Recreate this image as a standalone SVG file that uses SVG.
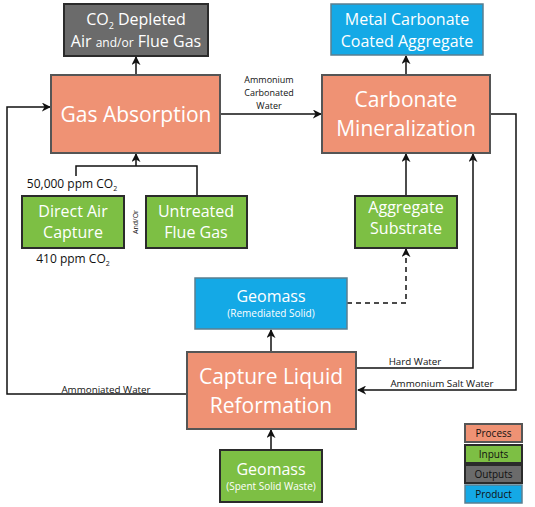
<svg xmlns="http://www.w3.org/2000/svg" width="535" height="507" viewBox="0 0 535 507">
<defs>
<marker id="ah" viewBox="0 0 10 10" refX="9" refY="5" markerWidth="9" markerHeight="9" markerUnits="userSpaceOnUse" orient="auto"><path d="M0,0 L10,5 L0,10 L3,5 Z" fill="#111"/></marker>
<style>
.proc{fill:#EF9274;stroke:#555;stroke-width:2}
.inp{fill:#7DBF44;stroke:#2b2b2b;stroke-width:2}
.out{fill:#6b6b6b;stroke:#2b2b2b;stroke-width:2}
.prod{fill:#14A9E6;stroke:#5a7f90;stroke-width:1.5}
text{font-family:"Open Sans","Liberation Sans",sans-serif;text-anchor:middle}
.w{fill:#fff}
.k{fill:#111}
.c{fill:none;stroke:#111;stroke-width:1.5}
.d{fill:none;stroke:#111;stroke-width:1.5;stroke-dasharray:5,4}
</style>
</defs>
<g id="connectors">
<path class="c" d="M136,75 V57" marker-end="url(#ah)"/>
<path class="c" d="M406,75 V56" marker-end="url(#ah)"/>
<path class="c" d="M220,114 H321" marker-end="url(#ah)"/>
<path class="c" d="M187,394 H7 V107 H50" marker-end="url(#ah)"/>
<path class="c" d="M490,114 H516 V390 H358" marker-end="url(#ah)"/>
<path class="c" d="M356,368 H473 V154" marker-end="url(#ah)"/>
<path class="c" d="M406,196 V154" marker-end="url(#ah)"/>
<path class="c" d="M76,176 V166 H197 V196 M136,166 V154" marker-end="url(#ah)"/>
<path class="d" d="M347,303 H406 V249" marker-end="url(#ah)"/>
<path class="c" d="M271,352 V330" marker-end="url(#ah)"/>
<path class="c" d="M271,450 V430" marker-end="url(#ah)"/>
<text class="k" x="269" y="83" font-size="9">Ammonium</text>
<text class="k" x="269" y="96" font-size="9">Carbonated</text>
<text class="k" x="269" y="109" font-size="9">Water</text>
<text class="k" x="106" y="393" font-size="9.8">Ammoniated Water</text>
<text class="k" x="415" y="365" font-size="9.8">Hard Water</text>
<text class="k" x="442" y="387" font-size="9.8">Ammonium Salt Water</text>
<text class="k" x="72" y="188" font-size="12">50,000 ppm CO<tspan font-size="7" dy="3">2</tspan></text>
<text class="k" x="73" y="263" font-size="12">410 ppm CO<tspan font-size="7" dy="3">2</tspan></text>
<text class="k" font-size="7" transform="translate(138,222) rotate(-90)">And/Or</text>
</g>
<g id="out-depleted">
<rect class="out" x="64" y="4" width="144" height="52"/>
<text class="w" x="136" y="25" font-size="16">CO<tspan font-size="9" dy="4">2</tspan><tspan dy="-4"> Depleted</tspan></text>
<text class="w" x="136" y="47" font-size="16">Air <tspan font-size="12">and/or</tspan> Flue Gas</text>
</g>
<g id="prod-metal">
<rect class="prod" x="331" y="4" width="152" height="51"/>
<text class="w" x="407" y="25" font-size="16">Metal Carbonate</text>
<text class="w" x="407" y="47" font-size="16">Coated Aggregate</text>
</g>
<g id="gas-absorption">
<rect class="proc" x="51" y="75" width="169" height="78"/>
<text class="w" x="136" y="122" font-size="21">Gas Absorption</text>
</g>
<g id="carbonate-min">
<rect class="proc" x="322" y="75" width="168" height="78"/>
<text class="w" x="406" y="107" font-size="21">Carbonate</text>
<text class="w" x="406" y="136" font-size="21">Mineralization</text>
</g>
<g id="direct-air">
<rect class="inp" x="22" y="196" width="102" height="52"/>
<text class="w" x="73" y="217" font-size="16">Direct Air</text>
<text class="w" x="73" y="238" font-size="16">Capture</text>
</g>
<g id="untreated">
<rect class="inp" x="146" y="196" width="101" height="52"/>
<text class="w" x="196" y="217" font-size="16">Untreated</text>
<text class="w" x="196" y="238" font-size="16">Flue Gas</text>
</g>
<g id="aggregate">
<rect class="inp" x="355" y="196" width="102" height="52"/>
<text class="w" x="406" y="213" font-size="16">Aggregate</text>
<text class="w" x="406" y="234" font-size="16">Substrate</text>
</g>
<g id="geomass-remediated">
<rect class="prod" x="195" y="278" width="152" height="51"/>
<text class="w" x="271" y="302" font-size="16">Geomass</text>
<text class="w" x="271" y="317" font-size="10">(Remediated Solid)</text>
</g>
<g id="capture-liquid">
<rect class="proc" x="187" y="352" width="169" height="77"/>
<text class="w" x="271" y="384" font-size="21">Capture Liquid</text>
<text class="w" x="271" y="413" font-size="21">Reformation</text>
</g>
<g id="geomass-spent">
<rect class="inp" x="220" y="450" width="102" height="52"/>
<text class="w" x="271" y="475" font-size="16">Geomass</text>
<text class="w" x="271" y="490" font-size="10">(Spent Solid Waste)</text>
</g>
<g id="legend">
<rect class="proc" x="465" y="424" width="57" height="18" stroke-width="1.5"/>
<text class="k" x="493.5" y="437" font-size="10" fill="#333">Process</text>
<rect class="inp" x="465" y="445" width="57" height="18" stroke-width="1.5"/>
<text class="k" x="493.5" y="458" font-size="10" fill="#333">Inputs</text>
<rect class="out" x="465" y="465" width="57" height="18" stroke-width="1.5"/>
<text class="k" x="493.5" y="478" font-size="10" fill="#333">Outputs</text>
<rect class="prod" x="465" y="485" width="57" height="18" stroke="#555"/>
<text class="k" x="493.5" y="498" font-size="10" fill="#333">Product</text>
</g>
</svg>
